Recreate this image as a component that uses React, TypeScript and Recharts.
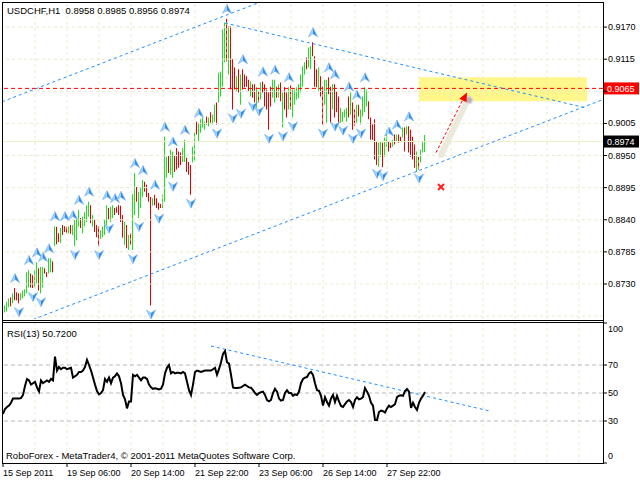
import React from 'react';
import {
  ComposedChart,
  Bar,
  Line,
  Scatter,
  XAxis,
  YAxis,
  ReferenceLine,
  ReferenceArea,
} from 'recharts';

// USDCHF H1 bars, 15 Sep .. 28 Sep 2011 (one entry per hour)
const barHigh = [
  0.8697, 0.8693, 0.8699, 0.8705, 0.8707, 0.8714, 0.8723, 0.8716, 0.8714, 0.8714,
  0.8719, 0.8721, 0.8750, 0.8754, 0.8748, 0.8745, 0.8754, 0.8767, 0.8757, 0.8759,
  0.8759, 0.8757, 0.8750, 0.8774, 0.8774, 0.8769, 0.8829, 0.8828, 0.8817, 0.8826,
  0.8831, 0.8829, 0.8828, 0.8829, 0.8831, 0.8831, 0.8840, 0.8841, 0.8857, 0.8843,
  0.8845, 0.8853, 0.8865, 0.8871, 0.8865, 0.8848, 0.8840, 0.8831, 0.8829, 0.8822,
  0.8828, 0.8840, 0.8865, 0.8860, 0.8862, 0.8865, 0.8860, 0.8862, 0.8865, 0.8864,
  0.8848, 0.8836, 0.8831, 0.8814, 0.8817, 0.8884, 0.8920, 0.8896, 0.8888, 0.8895,
  0.8908, 0.8905, 0.8900, 0.8886, 0.8879, 0.8877, 0.8883, 0.8877, 0.8869, 0.8867,
  0.8883, 0.8982, 0.8948, 0.8951, 0.8960, 0.8957, 0.8951, 0.8963, 0.8957, 0.8955,
  0.8963, 0.8977, 0.8946, 0.8939, 0.8934, 0.8965, 0.8989, 0.9008, 0.9006, 0.9012,
  0.9015, 0.9008, 0.9017, 0.9015, 0.9024, 0.9020, 0.9037, 0.9041, 0.9092, 0.9094,
  0.9166, 0.9178, 0.9184, 0.9172, 0.9172, 0.9115, 0.9101, 0.9086, 0.9098, 0.9089,
  0.9098, 0.9089, 0.9086, 0.9080, 0.9077, 0.9072, 0.9072, 0.9067, 0.9060, 0.9075,
  0.9077, 0.9072, 0.9063, 0.9058, 0.9068, 0.9080, 0.9080, 0.9068, 0.9072, 0.9075,
  0.9058, 0.9067, 0.9058, 0.9067, 0.9070, 0.9063, 0.9063, 0.9067, 0.9072, 0.9089,
  0.9103, 0.9110, 0.9118, 0.9135, 0.9137, 0.9144, 0.9120, 0.9098, 0.9101, 0.9086,
  0.9068, 0.9080, 0.9080, 0.9084, 0.9068, 0.9072, 0.9072, 0.9060, 0.9051, 0.9032,
  0.9025, 0.9029, 0.9032, 0.9051, 0.9058, 0.9041, 0.9029, 0.9037, 0.9037, 0.9029,
  0.9051, 0.9067, 0.9063, 0.9043, 0.9015, 0.9003, 0.9012, 0.8974, 0.8972, 0.8974,
  0.8972, 0.8981, 0.8994, 0.8974, 0.8972, 0.8977, 0.8986, 0.8986, 0.8986, 0.8982,
  0.8998, 0.8998, 0.9000, 0.9000, 0.8994, 0.8982, 0.8969, 0.8957, 0.8948, 0.8960,
  0.8974, 0.8985,
];

const barLow = [
  0.8681, 0.8681, 0.8683, 0.8690, 0.8692, 0.8697, 0.8702, 0.8702, 0.8697, 0.8702,
  0.8705, 0.8709, 0.8714, 0.8724, 0.8724, 0.8723, 0.8724, 0.8731, 0.8719, 0.8714,
  0.8724, 0.8748, 0.8742, 0.8748, 0.8750, 0.8750, 0.8795, 0.8798, 0.8802, 0.8800,
  0.8814, 0.8819, 0.8817, 0.8817, 0.8816, 0.8814, 0.8795, 0.8805, 0.8828, 0.8826,
  0.8817, 0.8829, 0.8836, 0.8845, 0.8834, 0.8828, 0.8819, 0.8810, 0.8795, 0.8807,
  0.8810, 0.8814, 0.8831, 0.8840, 0.8836, 0.8843, 0.8848, 0.8852, 0.8848, 0.8836,
  0.8809, 0.8797, 0.8791, 0.8788, 0.8797, 0.8788, 0.8848, 0.8871, 0.8843, 0.8860,
  0.8879, 0.8888, 0.8879, 0.8871, 0.8693, 0.8864, 0.8865, 0.8860, 0.8857, 0.8860,
  0.8860, 0.8871, 0.8912, 0.8920, 0.8917, 0.8912, 0.8922, 0.8926, 0.8929, 0.8934,
  0.8939, 0.8939, 0.8922, 0.8917, 0.8883, 0.8938, 0.8941, 0.8986, 0.8974, 0.8989,
  0.8998, 0.8994, 0.9003, 0.9000, 0.9006, 0.9003, 0.9008, 0.9003, 0.9041, 0.9051,
  0.9068, 0.9110, 0.9111, 0.9089, 0.9063, 0.9029, 0.9063, 0.9060, 0.9058, 0.9037,
  0.9063, 0.9067, 0.9068, 0.9060, 0.9051, 0.9049, 0.9041, 0.9032, 0.9041, 0.9046,
  0.9058, 0.9034, 0.9029, 0.8994, 0.9034, 0.9049, 0.9041, 0.9049, 0.9049, 0.9043,
  0.8998, 0.9029, 0.9015, 0.9029, 0.9029, 0.9015, 0.9037, 0.9046, 0.9048, 0.9058,
  0.9068, 0.9089, 0.9098, 0.9101, 0.9098, 0.9120, 0.9068, 0.9067, 0.9060, 0.9051,
  0.9003, 0.9037, 0.9006, 0.9055, 0.9006, 0.9029, 0.9015, 0.9024, 0.9006, 0.9006,
  0.9008, 0.9015, 0.9008, 0.9015, 0.9020, 0.8994, 0.9000, 0.9006, 0.9017, 0.9003,
  0.9017, 0.9024, 0.9034, 0.9012, 0.8977, 0.8977, 0.8943, 0.8934, 0.8931, 0.8948,
  0.8930, 0.8948, 0.8965, 0.8957, 0.8963, 0.8965, 0.8969, 0.8974, 0.8972, 0.8974,
  0.8981, 0.8957, 0.8986, 0.8955, 0.8948, 0.8943, 0.8929, 0.8922, 0.8926, 0.8938,
  0.8955, 0.8956,
];

// 1 = bullish bar (green), 0 = bearish bar (red)
const barUp = [
  0, 1, 1, 1, 0, 1, 0, 0, 0, 1,
  1, 1, 1, 1, 0, 0, 1, 1, 0, 1,
  1, 0, 0, 1, 1, 0, 1, 0, 0, 1,
  0, 0, 0, 1, 0, 1, 1, 1, 1, 0,
  1, 1, 1, 1, 0, 1, 0, 0, 0, 1,
  1, 1, 1, 0, 1, 1, 0, 0, 0, 0,
  0, 1, 0, 1, 0, 1, 1, 0, 1, 1,
  1, 0, 0, 0, 0, 1, 0, 0, 0, 0,
  1, 1, 1, 0, 1, 1, 0, 0, 0, 0,
  1, 1, 0, 0, 0, 1, 1, 0, 1, 1,
  1, 1, 0, 1, 0, 1, 1, 0, 1, 1,
  1, 1, 0, 1, 0, 0, 0, 1, 0, 1,
  0, 0, 0, 0, 1, 0, 0, 1, 0, 1,
  0, 0, 0, 0, 0, 1, 1, 0, 1, 0,
  1, 0, 0, 1, 0, 1, 1, 1, 1, 1,
  1, 1, 0, 1, 1, 0, 0, 0, 1, 0,
  0, 1, 1, 0, 0, 1, 0, 0, 0, 1,
  1, 1, 1, 0, 1, 0, 0, 1, 0, 1,
  1, 1, 1, 0, 0, 0, 0, 0, 1, 1,
  0, 1, 1, 0, 0, 1, 0, 1, 0, 0,
  1, 0, 1, 0, 0, 0, 0, 1, 0, 1,
  1, 1,
];

// RSI(13) per bar
const rsiValues = [
  35, 38.6, 40, 41, 43, 46, 46, 46, 46, 46.4,
  48.6, 55, 60, 59, 56, 57, 58, 54, 51, 59,
  57, 58, 59, 58, 60, 59, 76, 66, 68.6, 67,
  68, 68, 67, 67.5, 68, 61, 62, 63, 65, 65,
  66, 68.6, 73.6, 70, 66, 61, 56, 51.4, 49, 50,
  52, 60, 58, 61, 57, 61, 62, 64, 62, 57,
  48.6, 45.5, 39, 44, 44, 63, 62, 63, 61, 59,
  61, 61, 60, 56, 54, 53, 53.4, 53, 52.5, 53,
  56, 64, 68, 70, 64, 65, 64, 64.5, 64.5, 64,
  65, 64, 58, 52, 48.6, 56, 65, 66, 65.5, 65,
  65.5, 66, 66, 66, 66, 67, 68, 63, 67, 72,
  78, 80, 72, 71, 63, 54, 53.6, 53.6, 53.8, 54,
  55, 56, 55, 54, 53.8, 52, 50, 48.6, 50, 50.5,
  51, 48.6, 45, 44, 45, 50, 53, 51, 46, 44.5,
  45, 50, 52, 50, 50, 48, 49, 48.6, 51, 57,
  60, 61, 61.4, 64, 65, 63, 57, 52, 51.5, 48,
  41, 47, 43.6, 41, 46, 48.6, 43.6, 48, 44, 40.7,
  40, 42, 44, 45, 43.6, 40, 45, 47, 45.5, 46,
  47, 53.6, 51, 48, 43, 41, 30.7, 30.7, 36.4, 37.5,
  37, 36, 39, 41, 40, 41, 42, 47, 48, 48.3,
  48, 51.4, 52.9, 51, 39.3, 43, 40, 37.9, 43, 46,
  48, 50.72,
];

// bar indexes carrying a Bill Williams fractal
const upFractals = [6, 13, 17, 20, 23, 26, 31, 35, 38, 43, 52, 56, 59, 66, 70, 76, 81, 85, 91, 98, 112, 120, 130, 136, 143, 155, 163, 166, 173, 177, 181, 193, 197, 203];
const downFractals = [8, 15, 19, 36, 48, 53, 65, 68, 74, 78, 85, 94, 107, 115, 119, 125, 128, 133, 140, 145, 160, 166, 170, 175, 179, 187, 190, 208];

const priceTicks = [0.8675, 0.873, 0.8785, 0.884, 0.8895, 0.895, 0.9005, 0.906, 0.9115, 0.917];
const rsiTicks = [0, 30, 50, 70, 100];
const rsiLevels = [30, 50, 70];
const dateTickIdx = [0, 32, 64, 96, 128, 160, 192];
const dateLabels = ['15 Sep 2011', '19 Sep 06:00', '20 Sep 14:00', '21 Sep 22:00', '23 Sep 06:00', '26 Sep 14:00', '27 Sep 22:00'];
const gridIdx = [16, 32, 48, 64, 80, 96, 112, 128, 144, 160, 176, 192, 208, 224, 240, 256, 272, 288];

const targetLevel = 0.9065;
const bidPrice = 0.8974;
const targetZone = { x1: 208, x2: 292, y1: 0.9043, y2: 0.9084 };

// trend lines (bar index, price)
const channelUpper = [{ x: -0.5, y: 0.9042 }, { x: 140, y: 0.9228 }];
const channelLower = [{ x: 15, y: 0.8669 }, { x: 300, y: 0.9046 }];
const triangleTop = [{ x: 111, y: 0.9177 }, { x: 291, y: 0.9032 }];
const rsiTrend = [{ x: 104, y: 83.6 }, { x: 243.5, y: 37.1 }];
const forecastShadow = [{ x: 219, y: 0.8951 }, { x: 232.5, y: 0.9046 }];
const forecastArrow = [{ x: 216.5, y: 0.8955 }, { x: 230, y: 0.9046 }];
const forecastHead = [{ x: 232, y: 0.9058 }];
const forecastDot = [{ x: 233, y: 0.9045 }];
const stopMark = [{ x: 219, y: 0.8896 }];

const FONT = '"Liberation Sans", Arial, sans-serif';
const X_DOMAIN: [number, number] = [-0.5, 300];
const BLUE = '#1e90ff';
const GRID = '#ebe9cc';
const UP_COLOR = '#1ee01e';
const DOWN_COLOR = '#e80000';

// up and down bars go to separate series so each gets its own colour
const bars = barHigh.map((h, i) => ({
  x: i,
  upRange: barUp[i] ? [barLow[i], h] : null,
  downRange: barUp[i] ? null : [barLow[i], h],
}));
const rsiData = rsiValues.map((v, i) => ({ x: i, rsi: v }));
const upPoints = upFractals.map((i) => ({ x: i, y: barHigh[i] }));
const downPoints = downFractals.map((i) => ({ x: i, y: barLow[i] }));

function UpFractal({ cx, cy }: any) {
  return (
    <g transform={`translate(${cx},${cy - 10})`}>
      <path d="M0,-4.5 L0,1.5 L-4.5,4.5 Z" fill="#a4d0f7" />
      <path d="M0,-4.5 L4.5,4.5 L0,1.5 Z" fill="#2b8ae6" />
      <path d="M0,-4.5 L4.5,4.5 L0,1.5 L-4.5,4.5 Z" fill="none" stroke="#74b5f2" strokeWidth={0.7} />
    </g>
  );
}

function DownFractal({ cx, cy }: any) {
  return (
    <g transform={`translate(${cx},${cy + 9})`}>
      <path d="M0,4.5 L0,-1.5 L-4.5,-4.5 Z" fill="#a4d0f7" />
      <path d="M0,4.5 L4.5,-4.5 L0,-1.5 Z" fill="#2b8ae6" />
      <path d="M0,4.5 L4.5,-4.5 L0,-1.5 L-4.5,-4.5 Z" fill="none" stroke="#74b5f2" strokeWidth={0.7} />
    </g>
  );
}

function ArrowHead({ cx, cy }: any) {
  return <path d={`M${cx},${cy} L${cx - 0.5},${cy + 9.8} L${cx - 7.7},${cy + 6.2} Z`} fill="#ff0000" />;
}

function GrayDot({ cx, cy }: any) {
  return <circle cx={cx} cy={cy} r={3.5} fill="#b4b4b4" stroke="#e6d6d6" strokeWidth={1.5} />;
}

function CrossMark({ cx, cy }: any) {
  return (
    <g stroke="#ff2020" strokeWidth={2}>
      <line x1={cx - 3} y1={cy - 3} x2={cx + 3} y2={cy + 3} />
      <line x1={cx - 3} y1={cy + 3} x2={cx + 3} y2={cy - 3} />
    </g>
  );
}

function PriceTag(props: any) {
  const { viewBox, text, bg, fg } = props;
  const right = viewBox.x + viewBox.width;
  return (
    <g>
      <rect x={right + 1} y={viewBox.y - 6} width={35} height={12} fill={bg} />
      <text x={right + 4} y={viewBox.y + 3.5} fontSize={9} fontFamily={FONT} fill={fg}>
        {text}
      </text>
    </g>
  );
}

function PriceTick({ x, y, payload }: any) {
  if (Math.abs(payload.value - targetLevel) < 0.0008) return null;
  return (
    <text x={x} y={y} dy={3} fontSize={9} fontFamily={FONT} fill="#000">
      {payload.value.toFixed(4)}
    </text>
  );
}

function RsiTick({ x, y, payload }: any) {
  const shift = payload.value === 100 ? 6 : payload.value === 0 ? -7 : 0;
  return (
    <text x={x} y={y + shift} dy={3} fontSize={9} fontFamily={FONT} fill="#000">
      {payload.value}
    </text>
  );
}

function DateTick({ x, y, payload }: any) {
  const i = dateTickIdx.indexOf(payload.value);
  return (
    <text x={x} y={y} dy={7} fontSize={9} fontFamily={FONT} fill="#000">
      {dateLabels[i]}
    </text>
  );
}

const line = (style: React.CSSProperties) => (
  <div style={{ position: 'absolute', background: '#000', zIndex: 2, ...style }} />
);

export default function App() {
  return (
    <div style={{ position: 'absolute', left: 0, top: 0, width: 640, height: 480, background: '#fff', overflow: 'hidden' }}>
      <div style={{ position: 'absolute', left: 0, top: 0 }}>
        <ComposedChart width={640} height={321} data={bars} margin={{ top: 2, right: 0, bottom: 2, left: 2 }}>
          <XAxis dataKey="x" type="number" domain={X_DOMAIN} allowDataOverflow hide />
          <XAxis xAxisId="up" dataKey="x" type="number" domain={X_DOMAIN} allowDataOverflow hide />
          <XAxis xAxisId="down" dataKey="x" type="number" domain={X_DOMAIN} allowDataOverflow hide />
          <YAxis
            orientation="right"
            width={37}
            type="number"
            domain={[0.867, 0.9213]}
            allowDataOverflow
            ticks={priceTicks}
            axisLine={false}
            tickLine={{ stroke: '#000' }}
            tickSize={4}
            tickMargin={1}
            tick={<PriceTick />}
          />
          {priceTicks.map((p) => (
            <ReferenceLine key={`h${p}`} y={p} stroke={GRID} strokeDasharray="3 3" />
          ))}
          {gridIdx.map((g) => (
            <ReferenceLine key={`v${g}`} x={g} stroke={GRID} strokeDasharray="3 3" />
          ))}
          <ReferenceArea
            x1={targetZone.x1}
            x2={targetZone.x2}
            y1={targetZone.y1}
            y2={targetZone.y2}
            fill="#fff78a"
            fillOpacity={1}
            stroke="none"
          />
          <ReferenceLine
            y={bidPrice}
            stroke="#efefc6"
            label={<PriceTag text={bidPrice.toFixed(4)} bg="#000" fg="#fff" />}
          />
          <Bar xAxisId="up" dataKey="upRange" barSize={1} fill={UP_COLOR} stroke="none" isAnimationActive={false} />
          <Bar xAxisId="down" dataKey="downRange" barSize={1} fill={DOWN_COLOR} stroke="none" isAnimationActive={false} />
          <ReferenceLine
            y={targetLevel}
            stroke="#ff0000"
            strokeDasharray="4 3"
            label={<PriceTag text={targetLevel.toFixed(4)} bg="#ff0000" fg="#fff" />}
          />
          <ReferenceLine segment={channelUpper} stroke={BLUE} strokeDasharray="3 3" ifOverflow="hidden" />
          <ReferenceLine segment={channelLower} stroke={BLUE} strokeDasharray="3 3" ifOverflow="hidden" />
          <ReferenceLine segment={triangleTop} stroke={BLUE} strokeDasharray="3 3" ifOverflow="hidden" />
          <ReferenceLine segment={forecastShadow} stroke="#ebe9da" strokeWidth={6} strokeLinecap="round" ifOverflow="hidden" />
          <ReferenceLine segment={forecastArrow} stroke="#ff0000" strokeDasharray="3 2" ifOverflow="hidden" />
          <Scatter data={forecastDot} dataKey="y" shape={<GrayDot />} isAnimationActive={false} />
          <Scatter data={forecastHead} dataKey="y" shape={<ArrowHead />} isAnimationActive={false} />
          <Scatter data={stopMark} dataKey="y" shape={<CrossMark />} isAnimationActive={false} />
          <Scatter data={upPoints} dataKey="y" shape={<UpFractal />} isAnimationActive={false} />
          <Scatter data={downPoints} dataKey="y" shape={<DownFractal />} isAnimationActive={false} />
        </ComposedChart>
      </div>

      <div style={{ position: 'absolute', left: 0, top: 320 }}>
        <ComposedChart width={640} height={160} data={rsiData} margin={{ top: 3, right: 0, bottom: 0, left: 2 }}>
          <XAxis
            dataKey="x"
            type="number"
            domain={X_DOMAIN}
            allowDataOverflow
            ticks={dateTickIdx}
            interval={0}
            height={17}
            axisLine={false}
            tickLine={{ stroke: '#000' }}
            tickSize={4}
            tickMargin={2}
            tick={<DateTick />}
          />
          <YAxis
            orientation="right"
            width={37}
            type="number"
            domain={[0, 100]}
            allowDataOverflow
            ticks={rsiTicks}
            interval={0}
            axisLine={false}
            tickLine={{ stroke: '#000' }}
            tickSize={4}
            tickMargin={1}
            tick={<RsiTick />}
          />
          {gridIdx.map((g) => (
            <ReferenceLine key={`rv${g}`} x={g} stroke={GRID} strokeDasharray="3 3" />
          ))}
          {rsiLevels.map((l) => (
            <ReferenceLine key={`rl${l}`} y={l} stroke="#b8b8b8" strokeDasharray="4 3" />
          ))}
          <ReferenceLine segment={rsiTrend} stroke={BLUE} strokeDasharray="3 3" ifOverflow="hidden" />
          <Line dataKey="rsi" type="linear" stroke="#000" strokeWidth={2} dot={false} isAnimationActive={false} />
        </ComposedChart>
      </div>

      {line({ left: 2, top: 2, width: 602, height: 1 })}
      {line({ left: 2, top: 2, width: 1, height: 462 })}
      {line({ left: 603, top: 2, width: 1, height: 462 })}
      {line({ left: 2, top: 320, width: 602, height: 1 })}
      {line({ left: 2, top: 322, width: 602, height: 1 })}
      {line({ left: 2, top: 463, width: 602, height: 1 })}

      <div style={{ position: 'absolute', left: 7, top: 5, fontFamily: FONT, fontSize: 9.5, lineHeight: '11px', whiteSpace: 'pre', zIndex: 3 }}>
        USDCHF,H1  0.8958 0.8985 0.8956 0.8974
      </div>
      <div style={{ position: 'absolute', left: 7, top: 328, fontFamily: FONT, fontSize: 9.5, lineHeight: '11px', whiteSpace: 'pre', zIndex: 3 }}>
        RSI(13) 50.7200
      </div>
      <div style={{ position: 'absolute', left: 6, top: 450, fontFamily: FONT, fontSize: 9.5, lineHeight: '11px', whiteSpace: 'pre', zIndex: 3 }}>
        RoboForex - MetaTrader4, © 2001-2011 MetaQuotes Software Corp.
      </div>
    </div>
  );
}
